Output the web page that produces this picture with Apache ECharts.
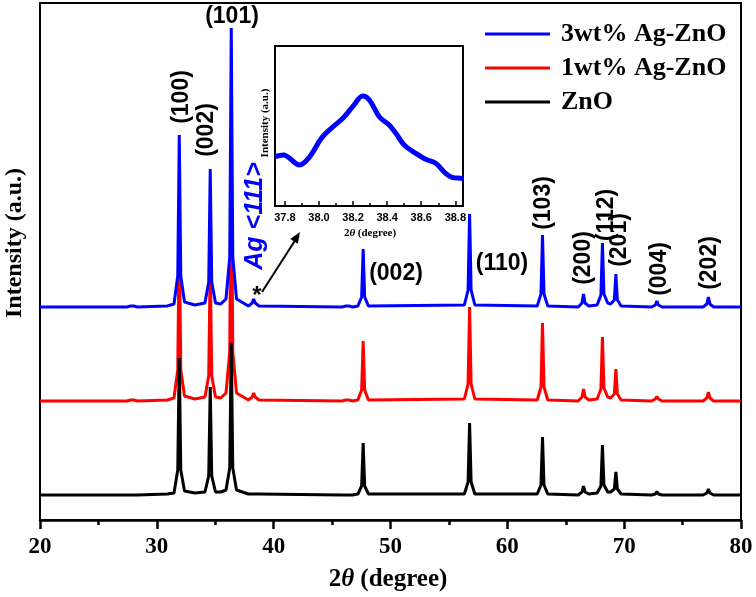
<!DOCTYPE html>
<html><head><meta charset="utf-8">
<script src="https://cdn.jsdelivr.net/npm/echarts@6/dist/echarts.min.js"></script>
<style>html,body{margin:0;padding:0;background:#fff}#c{width:756px;height:597px}</style>
</head><body><div id="c"></div>
<script>
// ---- data (2θ in degrees, intensity in arbitrary stacked units) ----
const twoTheta = [20,
  27.44,27.76,27.89,28.02,28.34,
  30.90,
  31.47,31.79,31.92,32.05,32.37,
  33.25,
  34.12,34.44,34.57,34.70,35.02,
  35.47,
  35.92,36.24,36.37,36.50,36.82,
  37.84,38.16,38.29,38.42,38.74,
  45.85,46.17,46.30,46.43,46.75,
  47.21,47.53,47.66,47.79,48.11,
  56.32,56.64,56.77,56.90,57.22,
  62.56,62.88,63.01,63.14,63.46,
  66.07,66.39,66.52,66.65,66.97,
  67.69,68.01,68.14,68.27,68.59,
  68.84,69.16,69.29,69.42,69.74,
  72.35,72.67,72.80,72.93,73.25,
  76.76,77.08,77.21,77.34,77.66,
  80];
const ag3Vals = [213,
  213,214,216,214,213,
  214,
  216,244,385,244,218,
  215,
  217,238,351,238,217,
  216,
  221,263,492,263,221,
  214,217,221,217,214,
  213,214,215,214,213,
  214,223,271,223,214,
  215,230,306,230,215,
  214,226,285,226,214,
  213,217,226,217,214,
  215,225,277,226,217,
  216,220,246,220,214,
  213,215,219,215,213,
  213,216,223,216,213,
  213];
const ag1Vals = [119,
  119,120,122,120,119,
  120,
  122,150,291,150,124,
  121,
  123,144,257,144,123,
  122,
  127,168,389,168,127,
  120,123,127,123,120,
  119,120,121,120,119,
  120,130,179,130,120,
  121,136,213,136,121,
  120,133,197,133,120,
  119,123,131,123,120,
  121,131,183,132,123,
  122,126,151,126,120,
  119,121,123.5,121,119,
  119,122,128,122,119,
  119];
const znoVals = [25,
  25,25,25,25,25,
  26,
  27,50,162,50,29,
  27,
  28,44,133,44,28,
  28,
  30,52,177,52,30,
  26,26,26,26,26,
  25,25,25,25,25,
  26,34,77,34,26,
  26,38,97,38,26,
  26,35,83,35,26,
  25,28,34,28,26,
  27,34,75,35,28,
  28,31,48,31,26,
  25,26,28.5,26,25,
  25,27,31,27,25,
  25];
const insetTheta = [37.742,37.790,37.887,37.946,38.014,38.072,38.140,38.198,38.257,38.296,38.354,38.412,38.451,38.500,38.568,38.626,38.685,38.743,38.781,38.830,38.845];
const insetVals  = [49.3,51,41,49.3,67.7,77.7,87.7,99.3,110,106,89.3,81,72.7,61,52.7,46.7,42.7,32.7,28.7,27.7,27.5];
const seriesNames = ['3wt% Ag-ZnO','1wt% Ag-ZnO','ZnO'];
const insetMajorTicks = [37.8,38.0,38.2,38.4,38.6,38.8];
const insetMinorTicks = [37.9,38.1,38.3,38.5,38.7];

const zip = (xs, ys) => xs.map((x, i) => [x, ys[i]]);

const serif = 'Liberation Serif';
const sans = 'Liberation Sans';
const peakLabel = (text, x, y, vertical) => ({
  type: 'text', x: x, y: y, rotation: vertical ? Math.PI / 2 : 0, z: 50,
  style: { text: text, fill: '#000', font: 'bold 23px "' + sans + '"', align: 'center', verticalAlign: 'middle' }
});

const chart = echarts.init(document.getElementById('c'), null, { renderer: 'canvas' });
chart.setOption({
  animation: false,
  backgroundColor: '#fff',
  grid: [
    { left: 40, right: 15, top: 3, bottom: 77, show: true, borderColor: '#000', borderWidth: 2, backgroundColor: 'transparent' },
    { left: 275, top: 46, width: 188, height: 160, show: true, borderColor: '#000', borderWidth: 2, backgroundColor: '#fff' }
  ],
  legend: {
    data: seriesNames, orient: 'vertical', left: 480, top: 16,
    icon: 'rect', itemWidth: 65, itemHeight: 3, itemGap: 8,
    textStyle: { fontFamily: serif, fontWeight: 'bold', fontSize: 26, color: '#000', lineHeight: 26, padding: [0, 0, 0, 6] }
  },
  xAxis: [
    { type: 'value', gridIndex: 0, min: 20, max: 80, interval: 10,
      axisLine: { show: true, onZero: false, lineStyle: { color: '#000', width: 2.5 } },
      axisTick: { show: true, inside: false, length: 9, lineStyle: { color: '#000', width: 2.5 } },
      minorTick: { show: true, splitNumber: 2, length: 5, lineStyle: { color: '#000', width: 2.5 } },
      splitLine: { show: false },
      axisLabel: { fontFamily: 'Liberation Sans Narrow', fontWeight: 'bold', fontSize: 23, color: '#000', margin: 16 } },
    { type: 'value', gridIndex: 1, min: 37.742, max: 38.845,
      axisLine: { show: true, onZero: false, lineStyle: { color: '#000', width: 2 } },
      axisTick: { show: true, inside: true, length: 5, customValues: insetMajorTicks, lineStyle: { color: '#000', width: 1.5 } },
      splitLine: { show: false },
      axisLabel: { customValues: insetMajorTicks, formatter: v => v.toFixed(1), fontFamily: sans, fontWeight: 'bold', fontSize: 11, color: '#000', margin: 6 } },
    { type: 'value', gridIndex: 1, min: 37.742, max: 38.845, position: 'bottom',
      axisLine: { show: false },
      axisTick: { show: true, inside: true, length: 3, customValues: insetMinorTicks, lineStyle: { color: '#000', width: 1.5 } },
      splitLine: { show: false }, axisLabel: { show: false } }
  ],
  yAxis: [
    { type: 'value', gridIndex: 0, min: 0, max: 517,
      axisLine: { show: true, lineStyle: { color: '#000', width: 2 } },
      axisTick: { show: false }, axisLabel: { show: false }, splitLine: { show: false } },
    { type: 'value', gridIndex: 1, min: 0, max: 160,
      axisLine: { show: true, lineStyle: { color: '#000', width: 2 } },
      axisTick: { show: false }, axisLabel: { show: false }, splitLine: { show: false } }
  ],
  series: [
    { name: seriesNames[1], type: 'line', xAxisIndex: 0, yAxisIndex: 0, data: zip(twoTheta, ag1Vals), symbol: 'none', color: '#ff0000', lineStyle: { width: 3, color: '#ff0000' } },
    { name: seriesNames[2], type: 'line', xAxisIndex: 0, yAxisIndex: 0, data: zip(twoTheta, znoVals), symbol: 'none', color: '#000000', lineStyle: { width: 3, color: '#000000' } },
    { name: seriesNames[0], type: 'line', xAxisIndex: 0, yAxisIndex: 0, data: zip(twoTheta, ag3Vals), symbol: 'none', color: '#0000ff', lineStyle: { width: 3, color: '#0000ff' } },
    { name: 'inset', type: 'line', xAxisIndex: 1, yAxisIndex: 1, data: zip(insetTheta, insetVals), symbol: 'none', smooth: 0.35, color: '#0000ff', lineStyle: { width: 5, color: '#0000ff' }, z: 10 }
  ],
  graphic: [
    { type: 'text', x: 388, y: 580, z: 50, style: { text: '{a|2}{b|θ}{a| (degree)}', align: 'center', verticalAlign: 'middle',
      rich: { a: { font: 'bold 25px "' + serif + '"', fill: '#000' }, b: { font: 'italic bold 25px "' + serif + '"', fill: '#000' } } } },
    { type: 'text', x: 15, y: 243, rotation: Math.PI / 2, z: 50, style: { text: 'Intensity (a.u.)', font: 'bold 24px "' + serif + '"', fill: '#000', align: 'center', verticalAlign: 'middle' } },
    { type: 'text', x: 370, y: 233, z: 50, style: { text: '{a|2}{b|θ}{a| (degree)}', align: 'center', verticalAlign: 'middle',
      rich: { a: { font: 'bold 11px "' + serif + '"', fill: '#000' }, b: { font: 'italic bold 11px "' + serif + '"', fill: '#000' } } } },
    { type: 'text', x: 265, y: 123, rotation: Math.PI / 2, z: 50, style: { text: 'Intensity (a.u.)', font: 'bold 11px "' + serif + '"', fill: '#000', align: 'center', verticalAlign: 'middle' } },
    peakLabel('(100)', 182, 97, true),
    peakLabel('(002)', 207, 130, true),
    peakLabel('(101)', 232, 17, false),
    peakLabel('(002)', 396, 274, false),
    peakLabel('(110)', 502, 264, false),
    peakLabel('(103)', 544, 203, true),
    peakLabel('(200)', 584, 258, true),
    peakLabel('(112)', 607, 215, true),
    peakLabel('(201)', 620, 240, true),
    peakLabel('(004)', 660, 269, true),
    peakLabel('(202)', 710, 263, true),
    { type: 'text', x: 255, y: 216, rotation: Math.PI / 2, z: 50, style: { text: 'Ag <111>', font: 'italic bold 25px "' + sans + '"', fill: '#0000ff', align: 'center', verticalAlign: 'middle' } },
    { type: 'text', x: 257, y: 296, z: 50, style: { text: '*', font: 'bold 24px "' + sans + '"', fill: '#000', align: 'center', verticalAlign: 'middle' } },
    { type: 'line', z: 50, shape: { x1: 262, y1: 292, x2: 296, y2: 239 }, style: { stroke: '#000', lineWidth: 2 } },
    { type: 'polygon', z: 50, shape: { points: [[300, 232], [297.9, 243.7], [290.3, 238.9]] }, style: { fill: '#000' } }
  ]
});
</script></body></html>
